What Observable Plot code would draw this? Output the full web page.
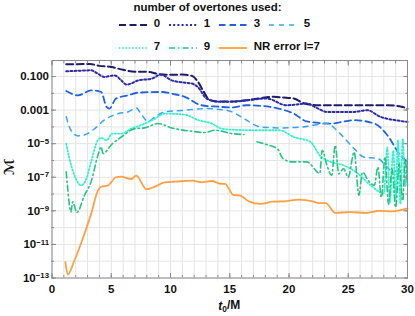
<!DOCTYPE html>
<html><head><meta charset="utf-8">
<script src="https://cdn.jsdelivr.net/npm/d3@7"></script>
<script src="https://cdn.jsdelivr.net/npm/@observablehq/plot@0.6"></script>
<style>
body{margin:0;background:#fff;font-family:"Liberation Sans",Arial,sans-serif;color:#111;}
#wrap{width:415px;height:316px;position:relative;overflow:hidden;}
#legend{position:relative;height:56px;font-weight:bold;font-size:11.5px;}
#legend .title{position:absolute;left:0;width:415px;top:1px;text-align:center;}
#legend .item{position:absolute;height:14px;display:flex;align-items:center;white-space:nowrap;}
#legend .item svg{display:block;}
#legend .item span{position:absolute;left:34.5px;top:-1px;}
#chart svg{display:block;}
</style></head><body>
<div id="wrap"><div id="legend"><div class="title">number of overtones used:</div></div><div id="chart"></div></div>
<script>
// ---- data ----
const t0 = [1.2,2.0,3.2,4.0,5.0,6.0,7.0,8.0,9.0,10.0,11.0,11.8,12.3,12.8,13.3,14.0,15.0,16.4,17.5,18.7,19.5,20.4,21.3,22.5,24,26,28.3,29.5,30];
const m0 = [0.54,0.54,0.56,0.43,0.37,0.25,0.19,0.19,0.14,0.126,0.13,0.11,0.05,0.0126,0.004,0.0033,0.0033,0.0038,0.005,0.0062,0.0056,0.0049,0.0025,0.00195,0.00195,0.00195,0.00195,0.0016,0.00123];

const t1 = [1.2,2.2,3.3,3.8,4.4,5.3,5.8,6.3,7.3,8.4,9.2,10.1,11.0,11.8,12.3,13.05,14.0,15.2,16.4,18.1,19.8,21.5,22.3,23.2,25.5,26.6,27.7,29,30];
const m1 = [0.204,0.22,0.234,0.158,0.095,0.117,0.063,0.033,0.059,0.074,0.129,0.059,0.045,0.038,0.024,0.0049,0.0032,0.0031,0.0038,0.0049,0.00195,0.00245,0.0014,0.00078,0.00078,0.00098,0.0004,0.00025,0.0002];

const t3 = [1.2,2.2,3.3,4.15,4.6,4.85,5.4,6.4,7.3,9.2,10.3,11.2,12.6,14.0,15.2,16.4,18.4,19.5,20.4,21.5,23.5,25.5,27.2,28.3,29.4,30];
const m3 = [0.0138,0.0076,0.015,0.012,0.00155,0.00123,0.0049,0.0076,0.011,0.012,0.0089,0.0062,0.00195,0.0016,0.00145,0.00195,0.00155,0.00105,0.00062,0.00021,0.000158,0.00025,0.000158,3.2e-5,2.0e-6,8.3e-7];

const t5 = [1.2,1.6,2.2,3.0,3.6,4.4,5.6,6.4,7.1,7.5,8.1,8.7,9.5,11.2,12.9,14.7,15.2,16.2,17.6,19.3,21.2,23.2,24.3,25.5,26.3,27.5,28.6,29.4,30];
const m5 = [4.0e-4,6.3e-5,2.9e-5,4.0e-5,7.9e-5,2.5e-4,6.2e-4,7.8e-4,1.35e-3,6.2e-4,2.1e-4,4.0e-4,7.8e-4,9.8e-4,1.23e-3,9.8e-4,7.8e-4,3.1e-4,1.0e-4,8.7e-5,1.0e-4,1.58e-4,4.0e-5,5.1e-6,1.6e-6,1.3e-6,2.6e-7,2.1e-7,1.7e-7];

const t7 = [1.2,1.47,1.9,2.46,2.9,3.3,3.87,4.15,4.6,5.1,5.85,6.7,7.5,8.7,9.5,11.2,12.35,13.5,14.3,15.2,17.6,19.2,20.4,21.8,22.6,23.5,24.6,25.8,26.9,28.0,28.3,28.5,28.8,29.0,29.2,29.4,29.6,29.8,30.0];
const m7 = [1.0e-5,1.3e-6,1.3e-7,3.3e-8,8.3e-8,8.3e-7,1.6e-5,2.2e-5,1.6e-5,4.0e-5,4.0e-5,7.9e-5,1.26e-4,3.1e-4,6.2e-4,5.4e-4,2.5e-4,1.58e-4,7.9e-5,6.8e-5,6.3e-5,6.3e-5,2.5e-5,1.3e-5,2.0e-6,8.3e-7,5.2e-7,1.7e-7,3.3e-8,1.1e-8,6e-6,3.2e-9,4e-6,5e-9,1.6e-5,2.5e-9,2e-5,3e-8,1.6e-6];

const t9 = [1.2,1.3,1.6,1.75,2.1,2.74,3.3,3.87,4.15,4.3,5.1,5.85,7.0,7.8,8.96,10.1,11.8,12.9,13.75,15.2,16.2,16.7,17.3,18.1,19.0,19.5,20.25,21.5,22.6,22.8,23.2,23.6,23.9,24.2,24.6,25.0,25.5,25.9,26.2,26.7,27.2,27.5,27.8,28.1,28.4,28.7,29.0,29.3,29.6,29.8,30.0];
const m9 = [2.1e-7,3.3e-8,8.7e-10,3.5e-9,7.9e-10,8.5e-9,5.4e-8,2.0e-6,6.5e-6,2.6e-6,1.0e-5,2.5e-5,7.9e-5,8.7e-5,1.58e-4,8.7e-5,5.5e-5,4.6e-5,6.3e-5,4.0e-5,3.5e-5,null,1.3e-5,8.9e-6,5.1e-6,1.3e-6,8.3e-7,8.3e-7,1.7e-7,4.1e-6,5.2e-7,1.3e-7,7.9e-6,1.6e-7,3.3e-7,1.0e-7,3.2e-6,8.5e-9,2.0e-7,6.3e-8,3.3e-8,4.0e-7,6.3e-9,1.6e-6,2.5e-9,3.2e-7,1.6e-9,6.3e-7,4.0e-9,1.0e-6,3.2e-8];

const tNR = [1.13,1.33,1.89,2.74,3.3,3.87,4.15,4.7,5.4,5.8,6.7,7.1,7.97,8.7,9.5,10.4,11.8,12.6,13.5,14.2,14.6,15.3,15.9,16.6,17.6,18.6,19.7,20.8,22.0,22.5,23.1,23.9,25.1,26.5,27.6,28.7,30];
const mNR = [8.7e-13,1.6e-13,1.1e-12,4.3e-11,6.6e-10,1.6e-8,2.8e-8,3.2e-8,1.0e-7,1.1e-7,7.9e-8,1.26e-7,1.9e-8,2.8e-8,5.0e-8,5.5e-8,6.3e-8,5.0e-8,6.0e-8,4.1e-8,4.0e-8,8.9e-9,8.1e-9,3.7e-9,2.6e-9,3.5e-9,3.7e-9,4.7e-9,3.7e-9,2.9e-9,2.9e-9,7.6e-10,8.3e-10,7.6e-10,1.0e-9,9.3e-10,1.4e-9];

const seriesNames = ["0","1","3","5","7","9","NR error l=7"];
const xMajorTicks = [0,5,10,15,20,25,30];
const xMinorTicks = d3.range(0,31);
const yDecades = [1e-13,1e-12,1e-11,1e-10,1e-9,1e-8,1e-7,1e-6,1e-5,1e-4,1e-3,1e-2,1e-1];
const yLabelTicks = [1e-13,1e-11,1e-9,1e-7,1e-5,1e-3,1e-1];
const yLabelText = {"-1":"0.100","-3":"0.001","-5":"10^-5","-7":"10^-7","-9":"10^-9","-11":"10^-11","-13":"10^-13"};

// ---- styles ----
const series = [
  {name:seriesNames[0], t:t0, m:m0, color:"#1c1c6c", dash:"7,3.5", w:2},
  {name:seriesNames[1], t:t1, m:m1, color:"#2b2ba6", dash:"2,2.2", w:2},
  {name:seriesNames[2], t:t3, m:m3, color:"#1f62e3", dash:"6.5,4", w:1.8},
  {name:seriesNames[3], t:t5, m:m5, color:"#35a6f5", dash:"5,5", w:1.5},
  {name:seriesNames[4], t:t7, m:m7, color:"#33f0cf", dash:"1.3,2", w:1.8},
  {name:seriesNames[5], t:t9, m:m9, color:"#25c483", dash:"6,3,1.5,3", w:1.6},
  {name:seriesNames[6], t:tNR, m:mNR, color:"#ffa040", dash:null, w:1.8}
];

// ---- legend ----
const legend = d3.select("#legend");
series.forEach((s,i)=>{
  const row = i < 4 ? 0 : 1, col = i < 4 ? i : i-4;
  const item = legend.append("div").attr("class","item")
    .style("left",(119.3+col*50)+"px").style("top",(row===0?18:41.3)+"px");
  const sv = item.append("svg").attr("width",28).attr("height",14);
  sv.append("line").attr("x1",0).attr("x2",28).attr("y1",7).attr("y2",7)
    .attr("stroke",s.color).attr("stroke-width",s.w)
    .attr("stroke-dasharray",s.dash);
  item.append("span").text(s.name);
});

// ---- chart ----
const marks = [
  Plot.gridX(xMinorTicks,{stroke:"#e4e4e4",strokeOpacity:1}),
  Plot.gridY(yDecades,{stroke:"#e4e4e4",strokeOpacity:1}),
];
series.forEach(s=>{
  const rows = s.t.map((t,i)=>({t, m:s.m[i]}));
  marks.push(Plot.line(rows,{x:"t", y:"m", stroke:s.color, strokeWidth:s.w,
    strokeDasharray:s.dash||undefined, curve:"monotone-x"}));
});
marks.push(
  Plot.frame({stroke:"#8a8a8a"}),
  // inward ticks
  Plot.axisX(xMinorTicks,{anchor:"bottom",tickSize:-2.5,fill:"none",label:null,stroke:"#8a8a8a"}),
  Plot.axisX(xMajorTicks,{anchor:"bottom",tickSize:-4.5,fill:"none",label:null,stroke:"#8a8a8a"}),
  Plot.axisX(xMinorTicks,{anchor:"top",tickSize:-2.5,fill:"none",label:null,stroke:"#8a8a8a"}),
  Plot.axisX(xMajorTicks,{anchor:"top",tickSize:-4.5,fill:"none",label:null,stroke:"#8a8a8a"}),
  Plot.axisY(yDecades,{anchor:"left",tickSize:-2.5,fill:"none",label:null,stroke:"#8a8a8a"}),
  Plot.axisY(yLabelTicks,{anchor:"left",tickSize:-4.5,fill:"none",label:null,stroke:"#8a8a8a"}),
  Plot.axisY(yDecades,{anchor:"right",tickSize:-2.5,fill:"none",label:null,stroke:"#8a8a8a"}),
  Plot.axisY(yLabelTicks,{anchor:"right",tickSize:-4.5,fill:"none",label:null,stroke:"#8a8a8a"}),
  // labels
  Plot.axisX(xMajorTicks,{anchor:"bottom",tickSize:0,tickPadding:7,label:null,fill:"#111"}),
  Plot.axisY(yLabelTicks,{anchor:"left",tickSize:0,tickPadding:3,label:null,fill:"#111",
    tickFormat:d=>yLabelText[String(Math.round(Math.log10(d)))]})
);

const plot = Plot.plot({
  width:415, height:260,
  marginLeft:51.5, marginRight:8, marginTop:4, marginBottom:38.5,
  style:{fontFamily:"'Liberation Sans',Arial,sans-serif", fontSize:"11.5px", fontWeight:"bold", background:"#fff"},
  x:{domain:[0,30]},
  y:{type:"log", domain:[1e-13,0.9]},
  marks
});
document.getElementById("chart").appendChild(plot);

// superscript exponents on y labels
const svg = d3.select(plot);
svg.selectAll("text").each(function(){
  const el = d3.select(this);
  const txt = el.text();
  if (txt.startsWith("10^")) {
    const exp = txt.slice(3).replace("-","\u2212");
    el.text(null);
    el.append("tspan").text("10");
    el.append("tspan").attr("dy","-0.45em").attr("font-size","0.68em").text(exp);
  }
});

// axis titles
const xs = plot.scale("x");
const xt = svg.append("text").attr("x", xs.apply(15)).attr("y", 254)
  .attr("text-anchor","middle").attr("font-size","12px").attr("font-weight","bold").attr("fill","#111");
xt.append("tspan").attr("font-style","italic").text("t");
xt.append("tspan").attr("dy","0.25em").attr("font-size","0.7em").text("0");
xt.append("tspan").attr("dy","-0.25em").text("/M");
svg.append("text").attr("transform","translate(14,111) rotate(-90)")
  .attr("text-anchor","middle").attr("font-size","14px").attr("fill","#111")
  .attr("font-family","'DejaVu Serif','DejaVu Sans',serif").text("\u2133");
</script>
</body></html>
